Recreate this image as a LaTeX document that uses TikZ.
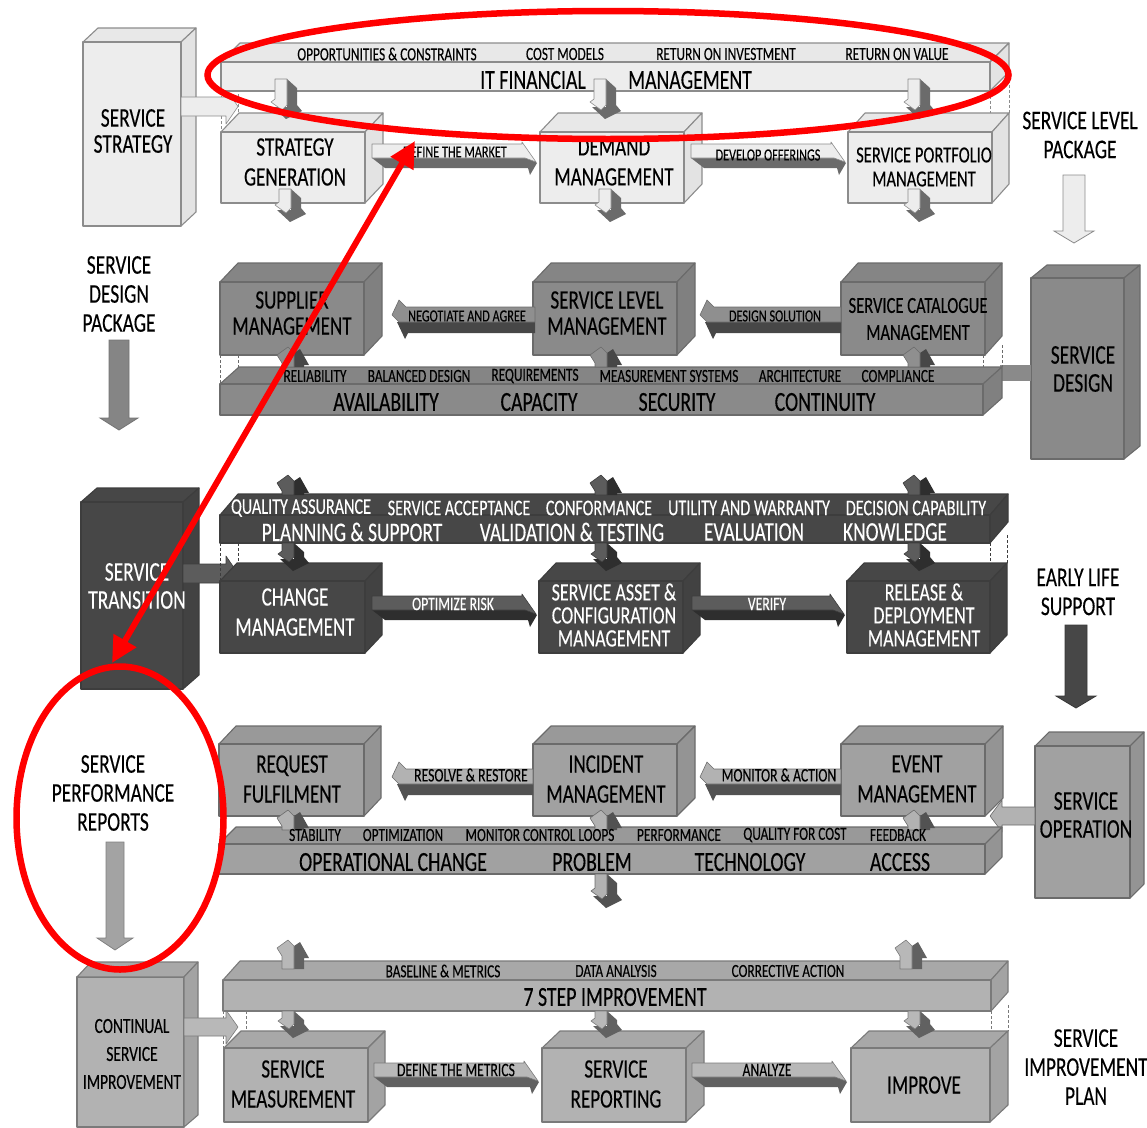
\documentclass[tikz,border=0pt]{standalone}
\usepackage{fontspec}
\setmainfont[FakeStretch=0.72,FakeBold=0.25]{Carlito}
\usetikzlibrary{arrows.meta,shapes.geometric}

\tikzset{
    boxface/.style={draw=rowedge,fill=rowface,line width=1.1pt,line join=round},
    boxtop/.style={draw=rowedge,fill=rowtop,line width=1.1pt,line join=round},
    boxside/.style={draw=rowedge,fill=rowside,line width=1.1pt,line join=round},
    arrowlight/.style={draw=rowedge,fill=rowlight,line width=0.6pt,line join=round},
    arrowdark/.style={fill=rowdark},
    linkdash/.style={draw=rowedge,densely dashed,line width=0.5pt},
    bigtext/.style={text=rowtext,align=center,inner sep=0pt,font=\fontsize{26.5}{30}\selectfont},
    bartext/.style={text=rowtext,align=center,inner sep=0pt,font=\fontsize{27.5}{30}\selectfont},
    pillartext/.style={text=rowtext,align=center,inner sep=0pt,font=\fontsize{27}{28}\selectfont},
    midtext/.style={text=rowtext,align=center,inner sep=0pt,font=\fontsize{23}{24}\selectfont},
    triotext/.style={text=rowtext,align=center,inner sep=0pt,font=\fontsize{25}{23}\selectfont},
    labeltext/.style={text=rowtext,inner sep=0pt,font=\fontsize{18.5}{20}\selectfont},
    labelbig/.style={text=rowtext,inner sep=0pt,font=\fontsize{22.4}{24}\selectfont},
    arrowtext/.style={text=rowtext,inner sep=0pt,font=\fontsize{19}{20}\selectfont},
    arrowtight/.style={text=rowtext,inner sep=0pt,font=\fontsize{17}{20}\selectfont},
    sidetext/.style={text=black,align=center,inner sep=0pt,font=\fontsize{27}{29}\selectfont},
    redring/.style={ellipse,draw=red,line width=6.5pt,inner sep=0pt,outer sep=0pt},
    redarrow/.style={draw=red,line width=6pt,{Triangle[length=26pt,width=25pt]}-{Triangle[length=26pt,width=25pt]}},
}

% face, top, side, edge, light, dark, text
\newcommand{\setrow}[7]{%
    \colorlet{rowface}{#1}\colorlet{rowtop}{#2}\colorlet{rowside}{#3}\colorlet{rowedge}{#4}%
    \colorlet{rowlight}{#5}\colorlet{rowdark}{#6}\colorlet{rowtext}{#7}}

% front x0 y0 x1 y1, back xr yt
\newcommand{\cube}[6]{%
    \filldraw[boxtop] (#1,#2) -- (#1+#5-#3,#6) -- (#5,#6) -- (#3,#2) -- cycle;
    \filldraw[boxside] (#3,#2) -- (#5,#6) -- (#5,#4-#2+#6) -- (#3,#4) -- cycle;
    \filldraw[boxface] (#1,#2) rectangle (#3,#4);}

% tail, tip, top of shaft
\newcommand{\rightblock}[3]{%
    \fill[arrowdark] (#1,#3+14) -- (#2-12,#3+14) -- (#2-14,#3+7) -- (#2,#3+19) -- (#2-7,#3+31) -- (#2-9,#3+24) -- (#1+13,#3+24) -- cycle;
    \filldraw[arrowlight] (#1,#3) -- (#2-15,#3) -- (#2-15,#3-2) -- (#2-1,#3+18) -- (#2-12,#3+14) -- (#1,#3+14) -- cycle;}
\newcommand{\leftblock}[3]{%
    \fill[arrowdark] (#2,#3+15) -- (#1+5,#3+15) -- (#1+13,#3+32) -- (#1+16,#3+26) -- (#2,#3+26) -- cycle;
    \filldraw[arrowlight] (#2,#3) -- (#1+14,#3) -- (#1+7,#3-7) -- (#1,#3+8) -- (#1+7,#3+15) -- (#2,#3+15) -- cycle;}

% centre, top, tip
\newcommand{\downblock}[3]{%
    \fill[arrowdark] (#1+2,#2) -- (#1+12,#2+9) -- (#1+12,#3-14) -- (#1+17,#3-8) -- (#1+1,#3) -- (#1-12,#3-12) -- (#1+2,#3-12) -- cycle;
    \filldraw[arrowlight] (#1-10,#2) -- (#1+2,#2) -- (#1+2,#3-14) -- (#1-3,#3-9) -- (#1-14,#3-17) -- (#1-10,#3-20) -- cycle;}
% centre, tip, bottom
\newcommand{\upblock}[3]{%
    \fill[arrowdark] (#1+2,#2+6) -- (#1+8,#2+2) -- (#1+17,#2+18) -- (#1+12,#2+18) -- (#1+12,#3) -- (#1+2,#3) -- cycle;
    \filldraw[arrowlight] (#1-10,#3) -- (#1+2,#3) -- (#1+2,#2+6) -- (#1-4,#2) -- (#1-15,#2+8) -- (#1-10,#2+16) -- cycle;}

% pillar to bar, x0 xh tip, y0 y1
\newcommand{\feedblock}[5]{%
    \filldraw[arrowlight] (#1,#4) -- (#2,#4) -- (#2,#4-8) -- (#3,#4/2+#5/2) -- (#2,#5+8) -- (#2,#5) -- (#1,#5) -- cycle;}
% plain package arrow
\newcommand{\packblock}[6]{%
    \filldraw[draw=#6,fill=#5,line width=0.8pt] (#1-#2,#3) -- (#1+#2,#3) -- (#1+#2,#4-12) -- (#1+#2+9,#4-12) -- (#1,#4) -- (#1-#2-9,#4-12) -- (#1-#2,#4-12) -- cycle;}

\begin{document}
\begin{tikzpicture}[x=1pt,y=-1pt]
    \useasboundingbox (0,0) rectangle (1147,1127);

    % strategy
    \begin{scope}
    \setrow{black!7}{black!9}{black!11}{black!45}{black!7}{black!58}{black}
    \draw[linkdash] (221,91) -- (221,132) (238,74) -- (238,113) (990,91) -- (990,132) (1009,70) -- (1009,113);
    \cube{83}{42}{181}{226}{196}{28}
    \feedblock{181}{226}{238}{97}{116}
    \cube{221}{62}{990}{91}{1009}{43}
    \cube{221}{132}{365}{203}{383}{113}
    \cube{540}{132}{684}{203}{702}{113}
    \cube{848}{132}{992}{203}{1009}{113}
    \rightblock{372}{537}{144}
    \rightblock{691}{846}{144}
    \downblock{285}{79}{119}
    \downblock{604}{79}{119}
    \downblock{918}{79}{119}
    \downblock{289}{189}{222}
    \downblock{609}{189}{222}
    \downblock{918}{189}{222}
    \node[pillartext] (stratname) at (133,131) {SERVICE\\[-2pt]STRATEGY};
    \node[labeltext] (opportunities) at (387,54) {OPPORTUNITIES \& CONSTRAINTS};
    \node[labeltext] (costmodels) at (565,54) {COST MODELS};
    \node[labeltext] (investment) at (726,54) {RETURN ON INVESTMENT};
    \node[labeltext] (value) at (897,54) {RETURN ON VALUE};
    \node[bartext] (itfin) at (533,80) {IT FINANCIAL};
    \node[bartext] (itmgmt) at (690,80) {MANAGEMENT};
    \node[bigtext] (stratgen) at (295,162) {STRATEGY\\GENERATION};
    \node[bigtext] (demand) at (614,162) {DEMAND\\MANAGEMENT};
    \node[midtext] (portfolio) at (924,167) {SERVICE PORTFOLIO\\MANAGEMENT};
    \node[arrowtight] (market) at (455,152) {DEFINE THE MARKET};
    \node[arrowtight] (offerings) at (768,155) {DEVELOP OFFERINGS};
    \end{scope}

    % design
    \begin{scope}
    \setrow{black!46}{black!48}{black!50}{black!58}{black!44}{black!72}{black}
    \cube{1031}{278}{1124}{459}{1140}{265}
    \filldraw[boxface,draw=none] (1000,365) rectangle (1031,381);
    \draw[linkdash] (220,355) -- (220,384) (238,355) -- (238,367) (983,355) -- (983,384) (1002,345) -- (1002,367);
    \cube{220}{384}{983}{415}{1002}{367}
    \cube{220}{282}{364}{355}{382}{263}
    \cube{533}{282}{677}{355}{695}{263}
    \cube{841}{282}{985}{355}{1002}{263}
    \leftblock{392}{535}{307}
    \leftblock{700}{841}{307}
    \upblock{292}{347}{367}
    \upblock{605}{347}{367}
    \upblock{918}{347}{367}
    \node[pillartext] (designname) at (1083,369) {SERVICE\\DESIGN};
    \node[bigtext] (supplier) at (292,313) {SUPPLIER\\[-4pt]MANAGEMENT};
    \node[bigtext] (slm) at (607,313) {SERVICE LEVEL\\[-4pt]MANAGEMENT};
    \node[midtext] (catalogue) at (918,319) {SERVICE CATALOGUE\\[3pt]MANAGEMENT};
    \node[arrowtight] (negotiate) at (467,316) {NEGOTIATE AND AGREE};
    \node[arrowtight] (solution) at (775,316) {DESIGN SOLUTION};
    \node[labeltext] (reliability) at (315,376) {RELIABILITY};
    \node[labeltext] (balanced) at (419,376) {BALANCED DESIGN};
    \node[labeltext] (requirements) at (535,376) {REQUIREMENTS};
    \node[labeltext] (measurement) at (669,376) {MEASUREMENT SYSTEMS};
    \node[labeltext] (architecture) at (800,376) {ARCHITECTURE};
    \node[labeltext] (compliance) at (898,376) {COMPLIANCE};
    \node[bartext] (availability) at (386,402) {AVAILABILITY};
    \node[bartext] (capacity) at (539,402) {CAPACITY};
    \node[bartext] (security) at (677,402) {SECURITY};
    \node[bartext] (continuity) at (825,402) {CONTINUITY};
    \end{scope}

    % transition
    \begin{scope}
    \setrow{black!72}{black!72}{black!74}{black!76}{black!64}{black!82}{white}
    \cube{81}{502}{183}{689}{199}{488}
    \feedblock{183}{226}{238}{564}{583}
    \draw[linkdash] (220,543) -- (220,581) (238,543) -- (238,563) (990,543) -- (990,581) (1007,535) -- (1007,563);
    \cube{220}{515}{990}{543}{1008}{494}
    \cube{220}{581}{365}{653}{382}{563}
    \cube{539}{581}{683}{653}{700}{563}
    \cube{847}{581}{990}{653}{1007}{563}
    \rightblock{372}{537}{596}
    \rightblock{692}{845}{596}
    \upblock{292}{475}{495}
    \upblock{605}{475}{495}
    \upblock{918}{475}{495}
    \downblock{292}{543}{571}
    \downblock{605}{543}{571}
    \downblock{918}{543}{571}
    \node[pillartext] (transname) at (137,586) {SERVICE\\TRANSITION};
    \node[labelbig] (quality) at (301,508) {QUALITY ASSURANCE};
    \node[labelbig] (acceptance) at (459,508) {SERVICE ACCEPTANCE};
    \node[labelbig] (conformance) at (599,508) {CONFORMANCE};
    \node[labelbig] (utility) at (749,508) {UTILITY AND WARRANTY};
    \node[labelbig] (decision) at (916,508) {DECISION CAPABILITY};
    \node[pillartext] (planning) at (352,532) {PLANNING \& SUPPORT};
    \node[pillartext] (validation) at (572,532) {VALIDATION \& TESTING};
    \node[pillartext] (evaluation) at (754,532) {EVALUATION};
    \node[pillartext] (knowledge) at (895,532) {KNOWLEDGE};
    \node[bigtext] (change) at (295,612) {CHANGE\\MANAGEMENT};
    \node[triotext] (asset) at (614,615) {SERVICE ASSET \&\\CONFIGURATION\\MANAGEMENT};
    \node[triotext] (release) at (924,615) {RELEASE \&\\DEPLOYMENT\\MANAGEMENT};
    \node[arrowtext] (optimize) at (453,604) {OPTIMIZE RISK};
    \node[arrowtext] (verify) at (767,604) {VERIFY};
    \end{scope}

    % operation
    \begin{scope}
    \setrow{black!37}{black!40}{black!42}{black!58}{black!30}{black!68}{black}
    \cube{1035}{746}{1130}{898}{1144}{732}
    \filldraw[arrowlight] (1035,807) -- (1002,807) -- (1002,800) -- (990,816) -- (1002,832) -- (1002,825) -- (1035,825) -- cycle;
    \cube{219}{844}{985}{874}{1002}{827}
    \cube{219}{744}{364}{816}{381}{726}
    \cube{533}{744}{677}{816}{695}{726}
    \cube{841}{744}{985}{816}{1003}{726}
    \leftblock{392}{533}{769}
    \leftblock{700}{841}{769}
    \upblock{292}{810}{830}
    \upblock{605}{810}{830}
    \upblock{918}{810}{830}
    \downblock{605}{874}{908}
    \node[pillartext] (opname) at (1086,815) {SERVICE\\OPERATION};
    \node[bigtext] (request) at (292,779) {REQUEST\\FULFILMENT};
    \node[bigtext] (incident) at (606,779) {INCIDENT\\MANAGEMENT};
    \node[bigtext] (eventm) at (917,779) {EVENT\\MANAGEMENT};
    \node[arrowtext] (resolve) at (471,775) {RESOLVE \& RESTORE};
    \node[arrowtext] (monitor) at (779,775) {MONITOR \& ACTION};
    \node[labeltext] (stability) at (315,835) {STABILITY};
    \node[labeltext] (optimization) at (403,835) {OPTIMIZATION};
    \node[labeltext] (loops) at (540,835) {MONITOR CONTROL LOOPS};
    \node[labeltext] (performance) at (679,835) {PERFORMANCE};
    \node[labeltext] (qualitycost) at (795,835) {QUALITY FOR COST};
    \node[labeltext] (feedback) at (898,835) {FEEDBACK};
    \node[bartext] (operational) at (393,862) {OPERATIONAL CHANGE};
    \node[bartext] (problem) at (592,862) {PROBLEM};
    \node[bartext] (technology) at (750,862) {TECHNOLOGY};
    \node[bartext] (access) at (900,862) {ACCESS};
    \end{scope}

    % improvement
    \begin{scope}
    \setrow{black!30}{black!34}{black!36}{black!52}{black!28}{black!62}{black}
    \draw[linkdash] (223,1011) -- (223,1048) (246,1011) -- (246,1031) (991,1011) -- (991,1048) (1008,1005) -- (1008,1031);
    \filldraw[boxface] (77,977) -- (184,977) -- (184,1127) -- (77,1127) -- cycle;
    \filldraw[boxtop] (77,977) -- (91,962) -- (198,962) -- (184,977) -- cycle;
    \filldraw[boxside] (184,977) -- (198,962) -- (198,1115) -- (184,1127) -- cycle;
    \feedblock{184}{226}{238}{1018}{1036}
    \cube{223}{980}{991}{1011}{1008}{961}
    \cube{224}{1048}{368}{1122}{385}{1031}
    \cube{542}{1048}{686}{1122}{704}{1031}
    \cube{851}{1048}{990}{1122}{1008}{1031}
    \rightblock{374}{539}{1063}
    \rightblock{692}{847}{1063}
    \upblock{292}{940}{969}
    \upblock{910}{940}{969}
    \downblock{292}{1011}{1038}
    \downblock{605}{1011}{1038}
    \downblock{918}{1011}{1038}
    \node[midtext,font=\fontsize{21.5}{24}\selectfont] (contname) at (132,1054) {CONTINUAL\\[4pt]SERVICE\\[4pt]IMPROVEMENT};
    \node[labeltext] (baseline) at (443,971) {BASELINE \& METRICS};
    \node[labeltext] (analysis) at (616,971) {DATA ANALYSIS};
    \node[labeltext] (corrective) at (788,971) {CORRECTIVE ACTION};
    \node[bartext] (sevenstep) at (615,997) {7 STEP IMPROVEMENT};
    \node[bigtext] (measure) at (293,1084) {SERVICE\\MEASUREMENT};
    \node[bigtext] (reporting) at (616,1084) {SERVICE\\REPORTING};
    \node[bigtext] (improve) at (924,1085) {IMPROVE};
    \node[arrowtext] (metrics) at (456,1070) {DEFINE THE METRICS};
    \node[arrowtext] (analyze) at (767,1070) {ANALYZE};
    \end{scope}

    % packages between the rows
    \packblock{119}{10}{340}{430}{black!48}{black!55}
    \packblock{1074}{11}{175}{243}{black!7}{black!45}
    \packblock{1076}{11}{625}{708}{black!72}{black!78}
    \packblock{115}{9}{842}{950}{black!36}{black!50}
    \node[sidetext] (designpack) at (119,294) {SERVICE\\DESIGN\\PACKAGE};
    \node[sidetext] (levelpack) at (1080,135) {SERVICE LEVEL\\PACKAGE};
    \node[sidetext] (earlylife) at (1078,592) {EARLY LIFE\\SUPPORT};
    \node[sidetext] (perftext) at (113,793) {SERVICE\\PERFORMANCE\\REPORTS};
    \node[sidetext] (planpack) at (1086,1067) {SERVICE\\IMPROVEMENT\\PLAN};

    % red marks
    \node[redring,minimum width=801pt,minimum height=128pt] (finring) at (608,75) {};
    \node[redring,minimum width=207pt,minimum height=303pt] (perfring) at (120,818) {};
    \coordinate (fintip) at (415,141);
    \coordinate (perftip) at (112,663);
    \draw[redarrow] (fintip) -- (perftip);
\end{tikzpicture}
\end{document}
